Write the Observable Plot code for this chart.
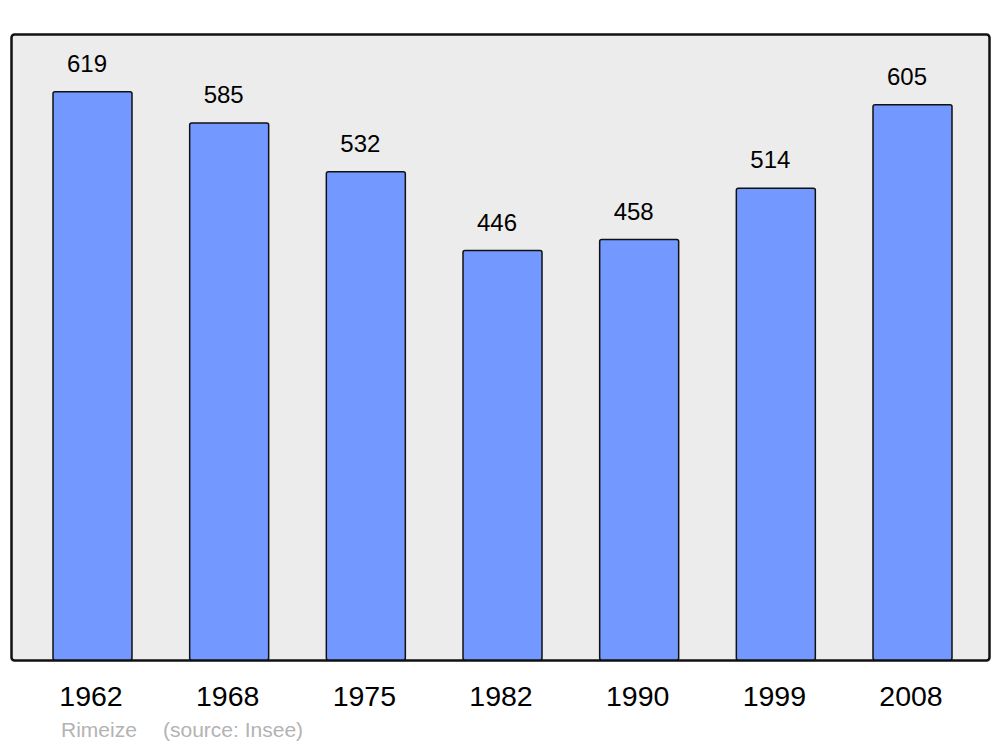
<!DOCTYPE html>
<html>
<head>
<meta charset="utf-8">
<script src="https://cdn.jsdelivr.net/npm/d3@7"></script>
<script src="https://cdn.jsdelivr.net/npm/@observablehq/plot@0.6"></script>
<style>
  html, body { margin: 0; padding: 0; background: #ffffff; }
  #wrap { position: relative; width: 1000px; height: 747px; font-family: "Liberation Sans", Arial, sans-serif; }
  .cap { position: absolute; top: 719px; font-size: 21px; line-height: 21px; color: #b3b3b3; white-space: pre; }
</style>
</head>
<body>
<div id="wrap"><div id="chart"></div><div class="cap" id="cap1" style="left:61px"></div><div class="cap" id="cap2" style="left:163px"></div></div>
<script>
const years = ["1962", "1968", "1975", "1982", "1990", "1999", "2008"];
const population = [619, 585, 532, 446, 458, 514, 605];
const commune = "Rimeize";
const source = "(source: Insee)";

const data = years.map((y, i) => ({year: y, pop: population[i]}));

const chart = Plot.plot({
  width: 1000,
  height: 715,
  marginLeft: 11,
  marginRight: 11,
  marginTop: 34,
  marginBottom: 55,
  style: {fontFamily: "Liberation Sans, Arial, sans-serif", background: "transparent", color: "black"},
  x: {type: "band", domain: years, insetLeft: 42, insetRight: 37, paddingInner: 0.422, paddingOuter: 0, round: false, label: null},
  y: {domain: [0, 682], axis: null},
  marks: [
    Plot.frame({fill: "#ececec", stroke: "#111", strokeWidth: 2.5, rx: 3}),
    Plot.barY(data, {x: "year", y: "pop", fill: "#7398ff", stroke: "#111", strokeWidth: 1.5, rx: 2}),
    Plot.text(data, {x: "year", y: "pop", text: d => String(d.pop), lineAnchor: "bottom", dy: -20.5, dx: -6, fontSize: 24, fill: "black"}),
    Plot.axisX({tickSize: 0, tickPadding: 25, fontSize: 28.5, dx: -2, label: null, fill: "black"})
  ]
});
document.getElementById("chart").appendChild(chart);
document.getElementById("cap1").textContent = commune;
document.getElementById("cap2").textContent = source;
</script>
</body>
</html>
